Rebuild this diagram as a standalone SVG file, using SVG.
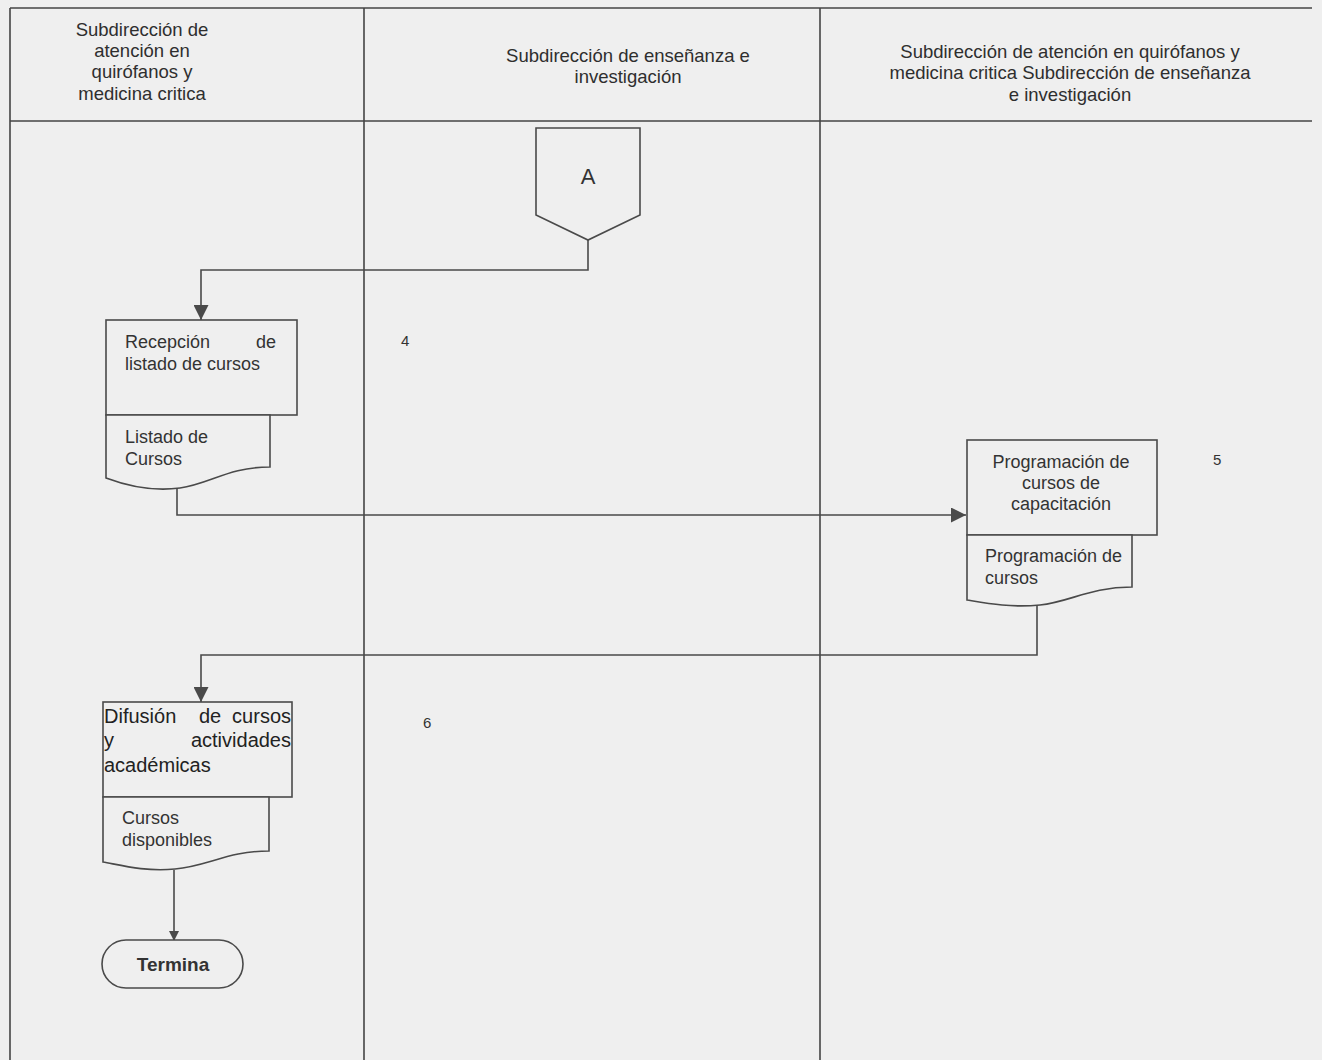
<svg xmlns="http://www.w3.org/2000/svg" width="1322" height="1060" viewBox="0 0 1322 1060">
<style>
.t{font-family:"Liberation Sans",Arial,sans-serif;font-size:18px;fill:#333}
.h{font-family:"Liberation Sans",Arial,sans-serif;font-size:18.5px;fill:#2e2e2e}
.n{font-family:"Liberation Sans",Arial,sans-serif;font-size:15px;fill:#333}
.d{font-size:20px;fill:#222}
.c{text-anchor:middle}
.e{text-anchor:end}
.b{font-weight:bold}
.frame{stroke:#444;stroke-width:1.6;fill:none}
.shape{stroke:#4a4a4a;stroke-width:1.6;fill:#efefef}
.conn{stroke:#4a4a4a;stroke-width:1.6;fill:none}
</style>
<defs>
<marker id="ar" markerWidth="10" markerHeight="10" refX="9" refY="5" orient="auto" markerUnits="userSpaceOnUse" viewBox="0 0 10 10">
<path d="M0,0 L10,5 L0,10 Z" fill="#4a4a4a"/>
</marker>
<marker id="arBig" viewBox="0 0 10 10" refX="10" refY="5" markerWidth="16" markerHeight="15" orient="auto" markerUnits="userSpaceOnUse">
<path d="M0,0 L10,5 L0,10 Z" fill="#4a4a4a"/>
</marker>
</defs>
<rect x="0" y="0" width="1322" height="1060" fill="#efefef"/>
<g id="frame">
<line class="frame" x1="10" y1="8" x2="1312" y2="8"/>
<line class="frame" x1="10" y1="121" x2="1312" y2="121"/>
<line class="frame" x1="10" y1="8" x2="10" y2="1060"/>
<line class="frame" x1="364" y1="8" x2="364" y2="1060"/>
<line class="frame" x1="820" y1="8" x2="820" y2="1060"/>
</g>
<g id="headers">
<text class="h c" x="142" y="36">Subdirección de</text>
<text class="h c" x="142" y="57">atención en</text>
<text class="h c" x="142" y="78">quirófanos y</text>
<text class="h c" x="142" y="100">medicina critica</text>
<text class="h c" x="628" y="62">Subdirección de enseñanza e</text>
<text class="h c" x="628" y="83">investigación</text>
<text class="h c" x="1070" y="58">Subdirección de atención en quirófanos y</text>
<text class="h c" x="1070" y="79">medicina critica Subdirección de enseñanza</text>
<text class="h c" x="1070" y="101">e investigación</text>
</g>
<g id="connectors">
<polyline class="conn" points="588,240 588,270 201,270 201,320" marker-end="url(#arBig)"/>
<polyline class="conn" points="177,488 177,515 966,515" marker-end="url(#arBig)"/>
<polyline class="conn" points="1037,604 1037,655 201,655 201,702" marker-end="url(#arBig)"/>
<line class="conn" x1="174" y1="870" x2="174" y2="940" marker-end="url(#ar)"/>
</g>
<g id="node-A">
<path class="shape" d="M536,128 H640 V215 L588,240 L536,215 Z"/>
<text class="t c" x="588" y="184" style="font-size:22px">A</text>
</g>
<g id="node-recepcion">
<rect class="shape" x="106" y="320" width="191" height="95"/>
<text class="t" x="125" y="348">Recepción</text>
<text class="t e" x="276" y="348">de</text>
<text class="t" x="125" y="370">listado de cursos</text>
</g>
<g id="doc-listado">
<path class="shape" d="M106,415 H270 V467 C228,467 210,484 180,488 C150,492 122,484 106,478 Z"/>
<text class="t" x="125" y="443">Listado de</text>
<text class="t" x="125" y="465">Cursos</text>
</g>
<text class="n" x="401" y="346">4</text>
<g id="node-programacion">
<rect class="shape" x="967" y="440" width="190" height="95"/>
<text class="t c" x="1061" y="468">Programación de</text>
<text class="t c" x="1061" y="489">cursos de</text>
<text class="t c" x="1061" y="510">capacitación</text>
</g>
<g id="doc-programacion">
<path class="shape" d="M967,535 H1132 V587 C1090,587 1070,602 1040,605 C1010,608 985,603 967,600 Z"/>
<text class="t" x="985" y="562">Programación de</text>
<text class="t" x="985" y="584">cursos</text>
</g>
<text class="n" x="1213" y="465">5</text>
<g id="node-difusion">
<rect class="shape" x="103" y="702" width="189" height="95"/>
<text class="t d" x="104" y="723">Difusión</text>
<text class="t d c" x="210" y="723">de</text>
<text class="t d e" x="291" y="723">cursos</text>
<text class="t d" x="104" y="747">y</text>
<text class="t d e" x="291" y="747">actividades</text>
<text class="t d" x="104" y="772">académicas</text>
</g>
<g id="doc-cursos">
<path class="shape" d="M103,797 H269 V851 C228,851 208,866 175,869 C145,872 120,865 103,862 Z"/>
<text class="t" x="122" y="824">Cursos</text>
<text class="t" x="122" y="846">disponibles</text>
</g>
<text class="n" x="423" y="728">6</text>
<g id="node-termina">
<rect class="shape" x="102" y="940" width="141" height="48" rx="24" ry="24"/>
<text class="t c b" x="173" y="971" style="font-size:19px">Termina</text>
</g>
</svg>
